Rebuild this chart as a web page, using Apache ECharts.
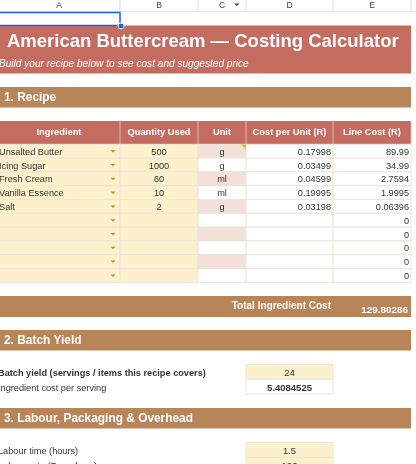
<!DOCTYPE html>
<html>
<head>
<meta charset="utf-8">
<style>html,body{margin:0;padding:0;background:#fff}#sheet{width:416px;height:464px}</style>
<script src="https://cdn.jsdelivr.net/npm/echarts@6/dist/echarts.min.js"></script>
</head>
<body>
<div id="sheet"></div>
<script>
// --- data ---
var columnLetters = ['A', 'B', 'C', 'D', 'E'];
var titleText = 'American Buttercream \u2014 Costing Calculator';
var subtitleText = 'Build your recipe below to see cost and suggested price';
var sectionTitles = ['1. Recipe', '2. Batch Yield', '3. Labour, Packaging & Overhead'];
var tableHeaders = ['Ingredient', 'Quantity Used', 'Unit', 'Cost per Unit (R)', 'Line Cost (R)'];
var ingredients = ['Unsalted Butter', 'Icing Sugar', 'Fresh Cream', 'Vanilla Essence', 'Salt', '', '', '', '', ''];
var quantities = ['500', '1000', '60', '10', '2', '', '', '', '', ''];
var units = ['g', 'g', 'ml', 'ml', 'g', '', '', '', '', ''];
var unitCosts = ['0.17998', '0.03499', '0.04599', '0.19995', '0.03198', '', '', '', '', ''];
var lineCosts = ['89.99', '34.99', '2.7594', '1.9995', '0.06396', '0', '0', '0', '0', '0'];
var totalLabel = 'Total Ingredient Cost';
var totalValue = '129.80286';
var yieldLabels = ['Batch yield (servings / items this recipe covers)', 'Ingredient cost per serving'];
var yieldValues = ['24', '5.4084525'];
var labourLabels = ['Labour time (hours)', 'Labour rate (R per hour)'];
var labourValues = ['1.5', '100'];

// --- sheet layout, in sheet pixels ---
var colEdges = [-2, 120, 198, 246, 333, 411];
var rowH = 13.8;
var rowTop = 144.3;
var font = 'Arial, "Liberation Sans", sans-serif';
var RED = '#c56c61', BROWN = '#b78558', CREAM = '#fdf1cd', PINK = '#f3e0d8', LINE = '#ece5d9', TXT = '#333333';

// every cell: rectangle plus optional text
var cells = [];
function cell(x0, y0, x1, y1, o) {
    o = o || {};
    o.x0 = x0; o.y0 = y0; o.x1 = x1; o.y1 = y1;
    cells.push(o);
}

// column header strip
cell(0, 11, 416, 12, { fill: '#e3e4e6' });
columnLetters.forEach(function (c, i) {
    cell(colEdges[i], 0, colEdges[i + 1], 11, { border: '#dadce0', text: c, align: 'center', size: 8.5, color: '#444444', sideOnly: true });
});

// title band
cell(-2, 25.5, 411, 73.5, { fill: RED });
cell(7, 27, 411, 57, { text: titleText, size: 18.5, weight: 'bold', color: '#ffffff', align: 'left' });
cell(-1, 56, 411, 73, { text: subtitleText, size: 10.1, style: 'italic', color: '#ffffff', align: 'left' });

// section bands
[[87, 107.5], [330, 350.5], [408, 428.5]].forEach(function (b, i) {
    cell(-2, b[0], 411, b[1], { fill: BROWN });
    cell(4, b[0], 411, b[1], { text: sectionTitles[i], size: 11.9, weight: 'bold', color: '#ffffff', align: 'left' });
});

// recipe table header
tableHeaders.forEach(function (h, i) {
    cell(colEdges[i], 121, colEdges[i + 1], rowTop, { fill: RED });
});
tableHeaders.forEach(function (h, i) {
    cell(colEdges[i], 121, colEdges[i + 1], rowTop, { border: '#dbb4ad', sideOnly: true, text: h, size: 9.3, weight: 'bold', color: '#ffffff', align: 'center' });
});

// recipe rows
ingredients.forEach(function (name, r) {
    var y0 = rowTop + r * rowH, y1 = y0 + rowH;
    cell(colEdges[0], y0, colEdges[1], y1, { fill: CREAM, border: LINE, text: name, size: 9.2, color: TXT, align: 'left', pad: 1, dy: 1, caret: true });
    cell(colEdges[1], y0, colEdges[2], y1, { fill: CREAM, border: LINE, text: quantities[r], size: 9.2, color: TXT, align: 'center', dy: 1 });
    cell(colEdges[2], y0, colEdges[3], y1, { fill: r % 2 ? '#ffffff' : PINK, border: LINE, text: units[r], size: 9.2, color: TXT, align: 'center', dy: 1 });
    cell(colEdges[3], y0, colEdges[4], y1, { fill: '#ffffff', border: LINE, text: unitCosts[r], size: 9.2, color: TXT, align: 'right', pad: 2, dy: 1 });
    cell(colEdges[4], y0, colEdges[5], y1, { fill: '#ffffff', border: LINE, text: lineCosts[r], size: 9.2, color: TXT, align: 'right', pad: 2, dy: 1 });
});

// total band
cell(-2, 296, 411, 317, { fill: BROWN });
cell(colEdges[3] - 40, 296, colEdges[4] - 2, 316, { text: totalLabel, size: 10, weight: 'bold', color: '#ffffff', align: 'right', pad: 0 });
cell(colEdges[4], 303, colEdges[5], 317, { text: totalValue, size: 9.9, weight: 'bold', color: '#ffffff', align: 'right', pad: 3 });

// batch yield rows
yieldLabels.forEach(function (l, i) {
    var y0 = 364.3 + i * 14.9, y1 = y0 + 14.9;
    cell(-2, y0, 240, y1, { text: l, size: 9.2, weight: i ? 'normal' : 'bold', color: TXT, align: 'left', pad: 0, dy: 1.5 });
    cell(colEdges[3], y0, colEdges[4], y1, { fill: i ? '#ffffff' : CREAM, border: LINE, text: yieldValues[i], size: 9.5, weight: i ? 'bold' : 'normal', color: TXT, align: 'center', dy: 1.5 });
});

// labour rows
labourLabels.forEach(function (l, i) {
    var y0 = 442.5 + i * 14.9, y1 = y0 + 14.9;
    cell(-2, y0, 240, y1, { text: l, size: 9.2, color: TXT, align: 'left', pad: 0, dy: 1.5 });
    cell(colEdges[3], y0, colEdges[4], y1, { fill: CREAM, border: LINE, text: labourValues[i], size: 9.5, color: TXT, align: 'center', dy: 1.5 });
});

function renderCell(params, api) {
    var c = cells[api.value(0)];
    var a = api.coord([c.x0, c.y0]), b = api.coord([c.x1, c.y1]);
    var w = b[0] - a[0], h = b[1] - a[1];
    var kids = [];
    if (c.fill) {
        kids.push({ type: 'rect', shape: { x: a[0], y: a[1], width: w, height: h }, style: { fill: c.fill } });
    }
    if (c.border) {
        if (c.sideOnly) {
            kids.push({ type: 'line', shape: { x1: b[0], y1: a[1], x2: b[0], y2: b[1] }, style: { stroke: c.border, lineWidth: 1 } });
        } else {
            kids.push({ type: 'rect', shape: { x: a[0], y: a[1], width: w, height: h }, style: { fill: 'none', stroke: c.border, lineWidth: 1 } });
        }
    }
    if (c.text) {
        var pad = c.pad || 0;
        var tx = c.align === 'center' ? a[0] + w / 2 : (c.align === 'right' ? b[0] - pad : a[0] + pad);
        kids.push({
            type: 'text',
            style: {
                x: tx, y: a[1] + h / 2 + (c.dy || 0), text: c.text, fill: c.color, align: c.align, verticalAlign: 'middle',
                font: (c.style || 'normal') + ' ' + (c.weight || 'normal') + ' ' + c.size + 'px ' + font
            }
        });
    }
    if (c.caret) {
        var cx = b[0] - 7, cy = a[1] + h / 2 - 1;
        kids.push({ type: 'polygon', shape: { points: [[cx - 2.5, cy], [cx + 2.5, cy], [cx, cy + 2.5]] }, style: { fill: '#b8901f' } });
    }
    return { type: 'group', children: kids };
}

var chart = echarts.init(document.getElementById('sheet'), null, { renderer: 'canvas' });
chart.setOption({
    animation: false,
    grid: { left: 0, right: 0, top: 0, bottom: 0 },
    xAxis: { type: 'value', min: 0, max: 416, show: false },
    yAxis: { type: 'value', min: 0, max: 464, inverse: true, show: false },
    series: [{
        type: 'custom',
        coordinateSystem: 'cartesian2d',
        clip: false,
        silent: true,
        renderItem: renderCell,
        encode: { x: 1, y: 2 },
        data: cells.map(function (c, i) { return [i, c.x0, c.y0]; })
    }],
    graphic: [
        // selected cell: blue outline and fill handle
        { type: 'polyline', shape: { points: [[0, 12.5], [120, 12.5], [120, 25.5], [0, 25.5]] }, style: { fill: 'none', stroke: '#1a66d6', lineWidth: 1.5 }, z: 10 },
        { type: 'circle', shape: { cx: 121, cy: 26, r: 3 }, style: { fill: '#1a66d6', stroke: '#ffffff', lineWidth: 1 }, z: 11 },
        // filter arrow in column C header and note flag in the first Unit cell
        { type: 'polygon', shape: { points: [[234, 3.5], [239.5, 3.5], [236.8, 6]] }, style: { fill: '#444444' }, z: 10 },
        { type: 'polygon', shape: { points: [[241, 144.5], [246, 144.5], [246, 149.5]] }, style: { fill: '#f0b429' }, z: 10 }
    ]
});
</script>
</body>
</html>
